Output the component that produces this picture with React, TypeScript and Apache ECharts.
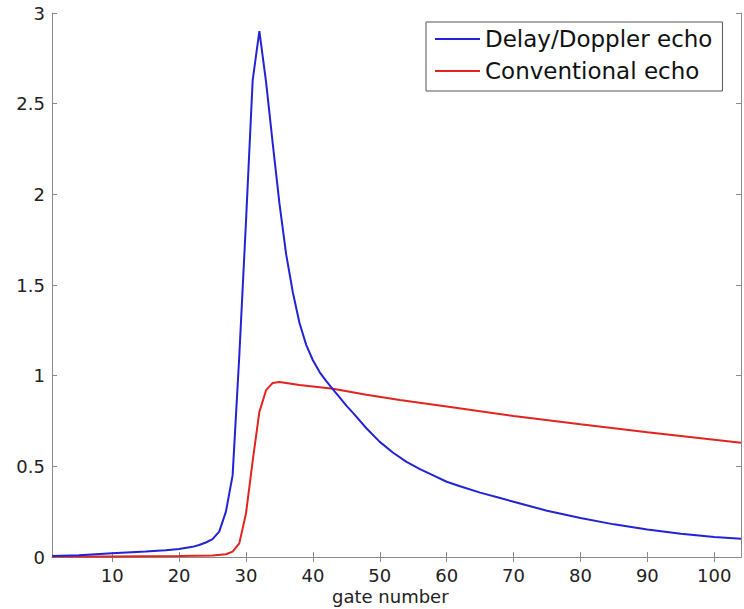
import React, { useEffect, useRef } from "react";
import * as echarts from "echarts";

const delayDopplerGates = [1, 5, 10, 15, 18, 20, 22, 23, 24, 25, 26, 27, 28, 29, 30, 31, 32, 33, 34, 35, 36, 37, 38, 39, 40, 41, 42, 43, 44, 45, 46, 48, 50, 52, 54, 56, 58, 60, 62, 65, 68, 70, 75, 80, 85, 90, 95, 100, 104];
const delayDopplerValues = [0.005, 0.01, 0.02, 0.03, 0.037, 0.044, 0.056, 0.066, 0.08, 0.099, 0.14, 0.25, 0.45, 1.11, 1.85, 2.63, 2.9, 2.62, 2.28, 1.95, 1.67, 1.46, 1.29, 1.17, 1.085, 1.02, 0.97, 0.925, 0.88, 0.835, 0.795, 0.71, 0.635, 0.575, 0.525, 0.485, 0.45, 0.415, 0.39, 0.355, 0.325, 0.305, 0.255, 0.215, 0.18, 0.152, 0.128, 0.11, 0.1];

const conventionalGates = [1, 10, 20, 25, 27, 28, 29, 30, 31, 32, 33, 34, 35, 36, 38, 40, 43, 48, 53, 60, 70, 80, 90, 104];
const conventionalValues = [0.003, 0.003, 0.005, 0.008, 0.015, 0.03, 0.075, 0.24, 0.53, 0.8, 0.92, 0.96, 0.965, 0.96, 0.948, 0.94, 0.928, 0.895, 0.866, 0.83, 0.778, 0.732, 0.688, 0.63];

const xTickValues = [10, 20, 30, 40, 50, 60, 70, 80, 90, 100];
const seriesNames = ["Delay/Doppler echo", "Conventional echo"];
const xAxisTitle = "gate number";

const FONT = "DejaVu Sans";
const AXIS_COLOR = "#8a8a8a";

export default function App() {
  const ref = useRef<HTMLDivElement>(null);
  useEffect(() => {
    if (!ref.current) return;
    const chart = echarts.init(ref.current, undefined, { renderer: "svg" });
    const blue = delayDopplerGates.map((g, i) => [g, delayDopplerValues[i]]);
    const red = conventionalGates.map((g, i) => [g, conventionalValues[i]]);
    const tick = { show: true, inside: true, length: 5, lineStyle: { color: AXIS_COLOR, width: 1 } };
    chart.setOption({
      animation: false,
      backgroundColor: "#ffffff",
      grid: { left: 52, right: 3, top: 13, bottom: 52, containLabel: false },
      legend: {
        orient: "vertical",
        left: 426,
        top: 22,
        itemWidth: 45,
        itemHeight: 2,
        itemGap: 6,
        padding: [4, 10, 7, 9],
        borderColor: "#555",
        borderWidth: 1,
        backgroundColor: "#ffffff",
        textStyle: { fontFamily: FONT, fontSize: 23, color: "#111", lineHeight: 26 },
        data: seriesNames.map((n) => ({ name: n, icon: "rect" })),
      },
      xAxis: [
        {
          type: "value",
          min: 1,
          max: 104,
          position: "bottom",
          splitLine: { show: false },
          axisLine: { show: true, lineStyle: { color: AXIS_COLOR, width: 1 } },
          axisTick: { ...tick, customValues: xTickValues },
          axisLabel: { customValues: xTickValues, fontFamily: FONT, fontSize: 18, color: "#222", margin: 9 },
        },
        {
          type: "value",
          min: 1,
          max: 104,
          position: "top",
          splitLine: { show: false },
          axisLine: { show: true, lineStyle: { color: AXIS_COLOR, width: 1 } },
          axisTick: { ...tick, customValues: xTickValues },
          axisLabel: { show: false },
        },
      ],
      yAxis: [
        {
          type: "value",
          min: 0,
          max: 3,
          interval: 0.5,
          position: "left",
          splitLine: { show: false },
          axisLine: { show: true, lineStyle: { color: AXIS_COLOR, width: 1 } },
          axisTick: tick,
          axisLabel: { fontFamily: FONT, fontSize: 18, color: "#222", margin: 7 },
        },
        {
          type: "value",
          min: 0,
          max: 3,
          interval: 0.5,
          position: "right",
          splitLine: { show: false },
          axisLine: { show: true, lineStyle: { color: AXIS_COLOR, width: 1 } },
          axisTick: tick,
          axisLabel: { show: false },
        },
      ],
      graphic: [
        {
          type: "text",
          left: 396 - 64,
          top: 587,
          style: { text: xAxisTitle, fontFamily: FONT, fontSize: 18, fill: "#222" },
        },
      ],
      series: [
        {
          name: seriesNames[0],
          type: "line",
          data: blue,
          symbol: "none",
          lineStyle: { color: "#2323d6", width: 2 },
          itemStyle: { color: "#2323d6" },
          z: 3,
        },
        {
          name: seriesNames[1],
          type: "line",
          data: red,
          symbol: "none",
          lineStyle: { color: "#e2231f", width: 2 },
          itemStyle: { color: "#e2231f" },
          z: 2,
        },
      ],
    });
    return () => chart.dispose();
  }, []);
  return <div ref={ref} style={{ width: 744, height: 609, position: "absolute", left: 0, top: 0 }} />;
}
